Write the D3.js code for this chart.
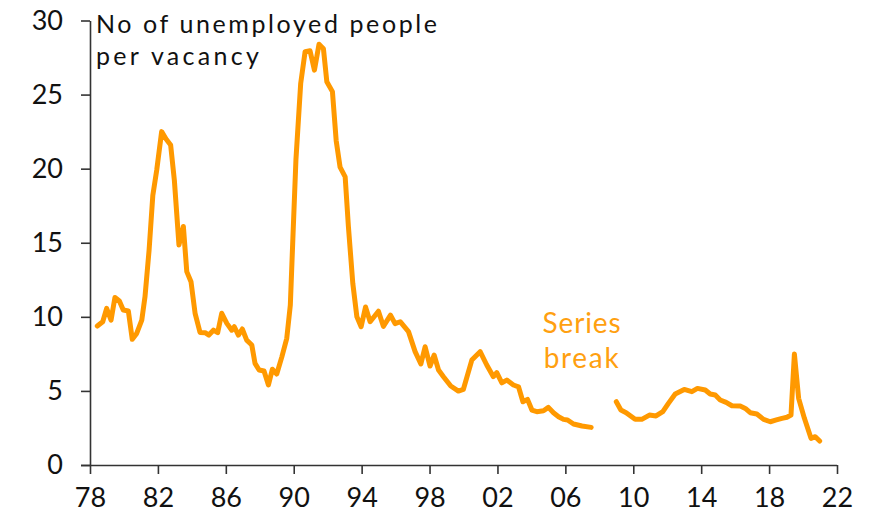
<!DOCTYPE html>
<html>
<head>
<meta charset="utf-8">
<script src="https://cdn.jsdelivr.net/npm/d3@7"></script>
<style>
  html, body { margin: 0; padding: 0; background: #ffffff; }
  svg text { font-family: "Century Gothic", Lato, "Open Sans", sans-serif; }
</style>
</head>
<body>
<svg id="chart" width="886" height="519"></svg>
<script>
// Unemployed people per vacancy, first series (to 2007)
const years1 = [1978.43, 1978.75, 1978.98, 1979.24, 1979.47, 1979.73, 1979.96, 1980.26, 1980.49, 1980.75,
  1981.05, 1981.24, 1981.48, 1981.7, 1981.93, 1982.22, 1982.48, 1982.75, 1982.97, 1983.24,
  1983.5, 1983.7, 1983.95, 1984.19, 1984.48, 1984.78, 1985.0, 1985.27, 1985.52, 1985.76,
  1986.06, 1986.35, 1986.5, 1986.74, 1986.97, 1987.23, 1987.53, 1987.72, 1987.96, 1988.25,
  1988.51, 1988.74, 1989.0, 1989.3, 1989.59, 1989.8, 1989.95, 1990.13, 1990.41, 1990.67,
  1990.96, 1991.22, 1991.49, 1991.75, 1991.95, 1992.28, 1992.5, 1992.73, 1993.03, 1993.22,
  1993.48, 1993.72, 1993.97, 1994.23, 1994.5, 1994.99, 1995.28, 1995.7, 1995.97, 1996.27,
  1996.76, 1997.15, 1997.49, 1997.74, 1998.03, 1998.27, 1998.53, 1998.82, 1999.25, 1999.7,
  1999.99, 2000.49, 2000.98, 2001.37, 2001.76, 2001.96, 2002.26, 2002.55, 2002.94, 2003.24,
  2003.5, 2003.77, 2004.03, 2004.32, 2004.71, 2005.0, 2005.3, 2005.6, 2005.89, 2006.13,
  2006.48, 2006.98, 2007.52];
const values1 = [9.38, 9.67, 10.57, 9.78, 11.31, 11.07, 10.46, 10.39, 8.48, 8.88,
  9.78, 11.36, 14.5, 18.2, 19.9, 22.5, 22.0, 21.6, 19.2, 14.85,
  16.1, 13.05, 12.37, 10.24, 8.95, 8.93, 8.77, 9.1, 8.93, 10.24,
  9.56, 9.1, 9.33, 8.77, 9.18, 8.43, 8.1, 6.86, 6.41, 6.34,
  5.4, 6.46, 6.14, 7.3, 8.55, 10.8, 15.3, 20.6, 25.75, 27.9,
  27.96, 26.65, 28.4, 28.1, 25.87, 25.2, 21.9, 20.1, 19.45, 16.1,
  12.26, 10.0, 9.33, 10.66, 9.67, 10.38, 9.36, 10.12, 9.54, 9.67,
  9.0, 7.65, 6.82, 7.98, 6.68, 7.42, 6.41, 5.96, 5.33, 4.99,
  5.1, 7.08, 7.65, 6.75, 5.96, 6.23, 5.55, 5.73, 5.4, 5.28,
  4.27, 4.43, 3.71, 3.6, 3.66, 3.89, 3.53, 3.26, 3.08, 3.04,
  2.77, 2.63, 2.54];

// Second series (from 2009), after the break
const years2 = [2009.0, 2009.27, 2009.58, 2010.11, 2010.5, 2010.95, 2011.34, 2011.74, 2012.07, 2012.47,
  2013.0, 2013.45, 2013.78, 2014.24, 2014.53, 2014.83, 2015.12, 2015.47, 2015.81, 2016.3,
  2016.6, 2016.89, 2017.28, 2017.68, 2018.07, 2018.43, 2018.76, 2019.05, 2019.29, 2019.49,
  2019.74, 2020.08, 2020.47, 2020.72, 2020.98];
const values2 = [4.27, 3.71, 3.53, 3.08, 3.08, 3.37, 3.31, 3.6, 4.16, 4.79,
  5.1, 4.95, 5.17, 5.06, 4.79, 4.72, 4.39, 4.23, 4.0, 3.98,
  3.82, 3.53, 3.44, 3.08, 2.92, 3.04, 3.15, 3.22, 3.37, 7.49,
  4.5, 3.15, 1.8, 1.91, 1.62];

const xTicks = [1978, 1982, 1986, 1990, 1994, 1998, 2002, 2006, 2010, 2014, 2018, 2022];
const xTickLabels = ["78", "82", "86", "90", "94", "98", "02", "06", "10", "14", "18", "22"];
const yTicks = [0, 5, 10, 15, 20, 25, 30];
const titleLines = ["No of unemployed people", "per vacancy"];
const noteLines = ["Series", "break"];

const svg = d3.select("#chart");
const LINE = "#ff9900";
const AXIS = "#333333";

const x = d3.scaleLinear().domain([1978, 2022]).range([90, 837]);
const y = d3.scaleLinear().domain([0, 30]).range([465, 20.5]);

// widen a text element by letter spacing until its rendered width reaches a target
function spreadTo(sel, target) {
  const node = sel.node();
  const w = node.getComputedTextLength();
  const n = sel.text().length;
  if (w > 0 && n > 1) sel.attr("letter-spacing", ((target - w) / (n - 1)).toFixed(3));
}

// x axis
const xAxis = svg.append("g")
  .attr("transform", `translate(0,${y(0)})`)
  .call(d3.axisBottom(x).tickValues(xTicks)
    .tickFormat((d, i) => xTickLabels[i]).tickSize(9).tickPadding(14).tickSizeOuter(0));
xAxis.select(".domain").attr("stroke", AXIS).attr("stroke-width", 1.6)
  .attr("d", `M${x(1978) - 9},0.5H${x(2022)}`);
xAxis.selectAll(".tick line").attr("stroke", AXIS).attr("stroke-width", 1.6);
xAxis.selectAll(".tick text").attr("font-size", 27).attr("fill", "#111")
  .attr("font-family", "\"Century Gothic\", Lato, sans-serif");

// y axis
const yAxis = svg.append("g")
  .attr("transform", `translate(${x(1978)},0)`)
  .call(d3.axisLeft(y).tickValues(yTicks).tickSize(9).tickPadding(18).tickSizeOuter(0));
yAxis.select(".domain").attr("stroke", AXIS).attr("stroke-width", 1.6);
yAxis.selectAll(".tick line").attr("stroke", AXIS).attr("stroke-width", 1.6);
yAxis.selectAll(".tick text").attr("font-size", 27).attr("fill", "#111")
  .attr("font-family", "\"Century Gothic\", Lato, sans-serif");

// lines
const line = d3.line().x(d => x(d[0])).y(d => y(d[1]));
const seg1 = years1.map((yr, i) => [yr, values1[i]]);
const seg2 = years2.map((yr, i) => [yr, values2[i]]);
[seg1, seg2].forEach(seg => {
  svg.append("path").datum(seg)
    .attr("d", line)
    .attr("fill", "none")
    .attr("stroke", LINE)
    .attr("stroke-width", 5)
    .attr("stroke-linejoin", "round")
    .attr("stroke-linecap", "round");
});

// axis title
const title = svg.append("g");
titleLines.forEach((t, i) => {
  const tx = title.append("text")
    .attr("x", 96).attr("y", 33 + i * 32)
    .attr("font-size", 25).attr("fill", "#111").text(t);
  spreadTo(tx, i === 0 ? 341 : 163);
});

// series break note
const note = svg.append("g");
noteLines.forEach((t, i) => {
  const tx = note.append("text")
    .attr("x", 582).attr("y", 333 + i * 35)
    .attr("text-anchor", "middle")
    .attr("font-size", 28).attr("fill", "#ffa010").text(t);
  spreadTo(tx, i === 0 ? 78 : 75);
});
</script>
</body>
</html>
